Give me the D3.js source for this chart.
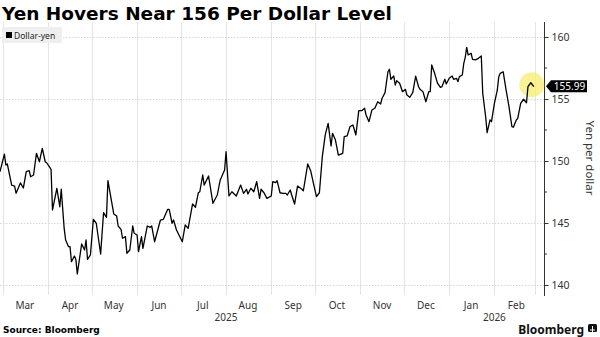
<!DOCTYPE html>
<html><head><meta charset="utf-8">
<script src="https://cdn.jsdelivr.net/npm/d3@7"></script>
<style>
html,body{margin:0;padding:0;background:#fff;}
svg{display:block;}
</style></head>
<body>
<svg id="chart" width="600" height="337"></svg>
<script>
// ---- data ----
const title = "Yen Hovers Near 156 Per Dollar Level";
const seriesName = "Dollar-yen";
const source = "Source: Bloomberg";
const yAxisTitle = "Yen per dollar";
const lastLabel = "155.99";
const yTicks = [140, 145, 150, 155, 160];
const monthLabels = ["Mar","Apr","May","Jun","Jul","Aug","Sep","Oct","Nov","Dec","Jan","Feb"];
const yearLabels = ["2025","2026"];
const dates = [
"2025-02-27","2025-03-02","2025-03-03","2025-03-04","2025-03-07","2025-03-09","2025-03-10","2025-03-13","2025-03-15","2025-03-17",
"2025-03-19","2025-03-20","2025-03-22","2025-03-24","2025-03-26","2025-03-28","2025-03-30","2025-03-31","2025-04-03","2025-04-04",
"2025-04-07","2025-04-09","2025-04-10","2025-04-12","2025-04-13","2025-04-15","2025-04-16","2025-04-17","2025-04-19","2025-04-20",
"2025-04-21","2025-04-24","2025-04-26","2025-04-27","2025-04-28","2025-04-30","2025-05-02","2025-05-04","2025-05-07","2025-05-09",
"2025-05-11","2025-05-12","2025-05-16","2025-05-18","2025-05-19","2025-05-21","2025-05-22","2025-05-24","2025-05-25","2025-05-27",
"2025-05-29","2025-05-30","2025-06-01","2025-06-02","2025-06-04","2025-06-05","2025-06-08","2025-06-10","2025-06-11","2025-06-13",
"2025-06-17","2025-06-19","2025-06-22","2025-06-23","2025-06-25","2025-06-26","2025-06-28","2025-07-02","2025-07-04","2025-07-06",
"2025-07-09","2025-07-11","2025-07-13","2025-07-14","2025-07-16","2025-07-17","2025-07-20","2025-07-23","2025-07-26","2025-07-28",
"2025-07-31","2025-08-01","2025-08-03","2025-08-05","2025-08-08","2025-08-11","2025-08-13","2025-08-15","2025-08-16","2025-08-18",
"2025-08-20","2025-08-22","2025-08-24","2025-08-25","2025-08-27","2025-08-29","2025-09-01","2025-09-02","2025-09-04","2025-09-05",
"2025-09-07","2025-09-09","2025-09-11","2025-09-12","2025-09-14","2025-09-15","2025-09-17","2025-09-19","2025-09-22","2025-09-23",
"2025-09-26","2025-09-28","2025-09-30","2025-10-02","2025-10-04","2025-10-06","2025-10-08","2025-10-10","2025-10-12","2025-10-13",
"2025-10-15","2025-10-17","2025-10-20","2025-10-21","2025-10-23","2025-10-25","2025-10-27","2025-10-29","2025-10-31","2025-11-02",
"2025-11-04","2025-11-05","2025-11-07","2025-11-09","2025-11-11","2025-11-13","2025-11-15","2025-11-16","2025-11-18","2025-11-20",
"2025-11-21","2025-11-22","2025-11-24","2025-11-25","2025-11-26","2025-11-28","2025-11-30","2025-12-02","2025-12-03","2025-12-05",
"2025-12-07","2025-12-09","2025-12-11","2025-12-12","2025-12-14","2025-12-16","2025-12-18","2025-12-19","2025-12-20","2025-12-22",
"2025-12-24","2025-12-26","2025-12-27","2025-12-29","2025-12-30","2026-01-01","2026-01-03","2026-01-04","2026-01-06","2026-01-07",
"2026-01-08","2026-01-10","2026-01-11","2026-01-12","2026-01-13","2026-01-14","2026-01-16","2026-01-17","2026-01-19","2026-01-21",
"2026-01-23","2026-01-24","2026-01-26","2026-01-27","2026-01-29","2026-01-30","2026-02-01","2026-02-03","2026-02-04","2026-02-05",
"2026-02-07","2026-02-09","2026-02-11","2026-02-13","2026-02-14","2026-02-16","2026-02-17","2026-02-19","2026-02-21","2026-02-23",
"2026-02-24","2026-02-26","2026-02-28"
];
const values = [
149.14,150.56,149.68,149.76,148.06,147.98,147.40,148.23,147.82,149.14,
149.22,148.73,148.87,150.62,149.94,151.02,149.94,149.86,149.33,146.05,
147.80,146.31,147.72,144.57,143.63,143.09,143.09,141.88,142.34,142.07,
140.89,143.31,142.82,143.63,142.07,142.42,145.30,144.98,142.50,145.83,
145.46,148.41,145.73,145.56,144.76,144.49,143.77,143.90,142.56,142.82,
144.76,144.17,144.03,142.69,143.90,142.96,144.76,144.65,144.76,143.49,
145.24,145.30,146.10,146.10,144.98,145.24,144.44,143.49,144.84,144.57,
146.53,146.27,147.44,147.52,148.87,148.06,148.79,146.59,147.26,148.47,
149.27,150.75,147.18,147.52,147.18,148.06,147.39,147.72,147.34,147.80,
147.52,148.33,146.99,147.72,147.44,146.99,147.18,148.33,148.25,148.41,
147.44,147.39,147.39,147.26,147.66,147.26,146.53,147.98,147.72,147.60,
149.76,149.22,148.15,147.12,147.44,150.35,152.10,153.04,151.21,152.23,
151.69,150.48,150.62,151.96,152.02,152.77,152.90,152.10,154.06,154.06,
154.25,153.71,153.17,154.11,154.25,154.78,154.60,155.06,155.51,157.20,
157.40,156.59,156.85,156.13,156.48,156.27,155.59,155.78,155.32,155.14,
155.51,156.85,155.99,155.78,155.59,154.78,155.59,155.59,157.74,157.07,
156.27,155.94,155.99,156.59,156.21,156.67,156.85,156.59,156.67,156.40,
156.80,156.94,157.88,158.36,159.17,158.55,158.69,158.20,158.15,158.28,
158.47,155.46,153.57,152.28,153.31,153.17,154.65,155.73,156.80,157.07,
157.20,155.73,154.38,152.77,152.72,153.31,153.44,154.65,154.98,154.70,
155.99,156.31,155.99
];

// ---- drawing ----
const parse = d3.timeParse("%Y-%m-%d");
const data = dates.map((d, i) => ({date: parse(d), value: values[i]}));
const svg = d3.select("#chart");
const plot = {left: 0, right: 544, top: 22, bottom: 292};
const font = "'Noto Sans', 'DejaVu Sans', sans-serif";

const x = d3.scaleTime()
  .domain([parse("2025-02-27"), parse("2026-03-07")])
  .range([plot.left, plot.right]);
const y = d3.scaleLinear().domain([140, 160]).range([285, 37]);

// title
const t = svg.append("text").attr("x", 2).attr("y", 20)
  .attr("font-family", "'DejaVu Sans', sans-serif").attr("font-weight", "bold")
  .attr("font-size", 18).attr("fill", "#000").text(title);
const tw = t.node().getComputedTextLength();
t.attr("font-size", 18 * 390 / tw);

// month boundaries
const monthStarts = d3.timeMonth.range(parse("2025-03-01"), parse("2026-03-02"));
svg.append("g").selectAll("line").data(monthStarts).join("line")
  .attr("x1", d => Math.round(x(d)) + 0.5).attr("x2", d => Math.round(x(d)) + 0.5)
  .attr("y1", plot.top).attr("y2", plot.bottom + 3)
  .attr("stroke", "#e4e4e4").attr("stroke-width", 1);

// horizontal grid
svg.append("g").selectAll("line").data(yTicks).join("line")
  .attr("x1", 0).attr("x2", plot.right)
  .attr("y1", d => Math.round(y(d)) + 0.5).attr("y2", d => Math.round(y(d)) + 0.5)
  .attr("stroke", "#d8d8d8").attr("stroke-width", 1).attr("stroke-dasharray", "1.5,1.5");

// legend
svg.append("rect").attr("x", 2).attr("y", 27).attr("width", 60).attr("height", 16).attr("fill", "#efefef");
svg.append("rect").attr("x", 6).attr("y", 32).attr("width", 6).attr("height", 6).attr("fill", "#000");
svg.append("text").attr("x", 14).attr("y", 38.5).attr("font-family", font).attr("font-size", 8.5)
  .attr("fill", "#222").text(seriesName);

// month labels (centered in month)
const monthMids = monthStarts.slice(0, 12).map(d => new Date(d.getFullYear(), d.getMonth(), 16));
svg.append("g").selectAll("text").data(monthMids).join("text")
  .attr("x", d => x(d)).attr("y", 309).attr("text-anchor", "middle")
  .attr("font-family", font).attr("font-size", 10).attr("fill", "#333")
  .text((d, i) => monthLabels[i]);
// year labels
const yearPos = [parse("2025-08-01"), parse("2026-02-01")];
svg.append("g").selectAll("text").data(yearPos).join("text")
  .attr("x", d => x(d)).attr("y", 321).attr("text-anchor", "middle")
  .attr("font-family", font).attr("font-size", 10).attr("fill", "#333")
  .text((d, i) => yearLabels[i]);

// y axis
const yAxis = d3.axisRight(y).tickValues(yTicks).tickSize(4).tickPadding(3).tickFormat(d3.format("d"));
const ga = svg.append("g").attr("transform", `translate(${plot.right + 0.5},0)`).call(yAxis);
ga.select(".domain").remove();
ga.selectAll("text").attr("font-family", font).attr("font-size", 10.5).attr("fill", "#333");
ga.selectAll("line").attr("stroke", "#333");
const minor = d3.range(142.5, 160, 5);
ga.selectAll(".minor").data(minor).join("line").attr("class", "minor")
  .attr("x1", 0).attr("x2", 2.5).attr("y1", d => y(d)).attr("y2", d => y(d)).attr("stroke", "#333");
svg.append("line").attr("x1", plot.right + 0.5).attr("x2", plot.right + 0.5)
  .attr("y1", plot.top).attr("y2", plot.bottom + 4).attr("stroke", "#333").attr("stroke-width", 1);

// y axis title
svg.append("text").attr("transform", `translate(586,${(37 + 285) / 2 - 3}) rotate(90)`)
  .attr("text-anchor", "middle").attr("font-family", font).attr("font-size", 11.5)
  .attr("fill", "#333").text(yAxisTitle);

// line
const line = d3.line().x(d => x(d.date)).y(d => y(d.value));
svg.append("path").datum(data).attr("d", line).attr("fill", "none")
  .attr("stroke", "#000").attr("stroke-width", 1.3).attr("stroke-linejoin", "round");

// highlight circle at last point
const last = data[data.length - 1];
svg.append("circle").attr("cx", x(last.date) - 2).attr("cy", y(last.value) - 2).attr("r", 12.5)
  .attr("fill", "#f7ee6e").attr("fill-opacity", 0.75);
svg.select("path").raise();

// last value label
const ly = y(last.value) - 0.5;
const lx = plot.right + 2;
svg.append("path")
  .attr("d", `M${lx},${ly} L${lx + 5},${ly - 6} L${lx + 41},${ly - 6} L${lx + 41},${ly + 6} L${lx + 5},${ly + 6} Z`)
  .attr("fill", "#000");
svg.append("text").attr("x", lx + 23.5).attr("y", ly + 3.5).attr("text-anchor", "middle")
  .attr("font-family", font).attr("font-size", 10).attr("fill", "#fff").text(lastLabel);

// footer
svg.append("text").attr("x", 3).attr("y", 333).attr("font-family", "'DejaVu Sans', sans-serif")
  .attr("font-weight", "bold").attr("font-size", 9).attr("fill", "#000").text(source);
svg.append("text").attr("x", 584).attr("y", 334).attr("text-anchor", "end")
  .attr("font-family", font).attr("font-weight", "bold").attr("font-size", 12)
  .attr("fill", "#111").text("Bloomberg");
svg.append("rect").attr("x", 588).attr("y", 324).attr("width", 9).attr("height", 8).attr("rx", 1.5).attr("fill", "#111");
svg.append("path").attr("d", "M590,330 L595,330 M592.5,326 L592.5,334").attr("stroke", "#fff").attr("stroke-width", 1);
</script>
</body></html>
